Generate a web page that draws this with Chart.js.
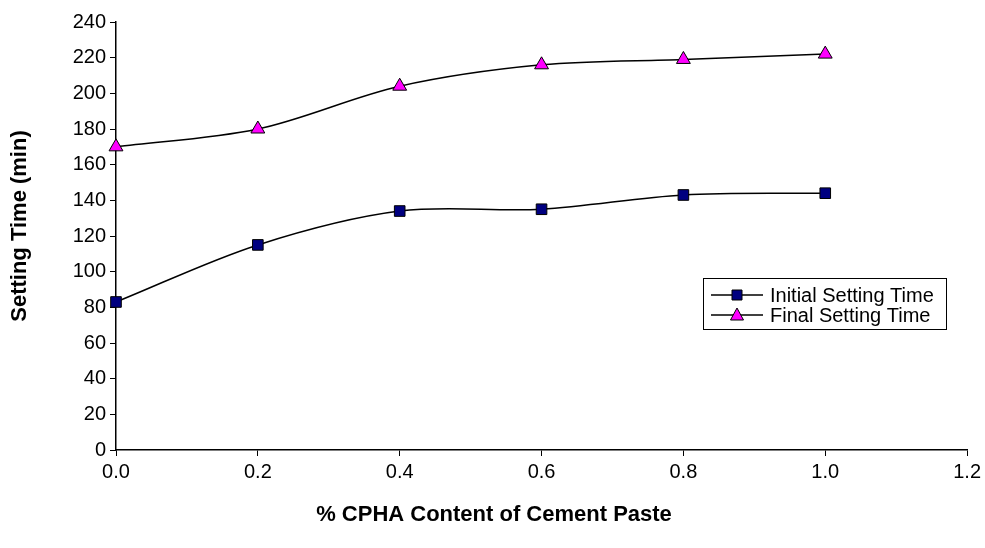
<!DOCTYPE html>
<html>
<head>
<meta charset="utf-8">
<script src="https://cdn.jsdelivr.net/npm/chart.js@4/dist/chart.umd.min.js"></script>
<style>
  html, body { margin: 0; padding: 0; background: #fff; }
  #wrap { width: 985px; height: 548px; }
</style>
</head>
<body>
<div id="wrap"><canvas id="setChart" width="985" height="548"></canvas></div>
<script>
// values
const cphaContent = [0.0, 0.2, 0.4, 0.6, 0.8, 1.0];
const initialSetting = [83, 115, 134, 135, 143, 144];
const finalSetting = [170, 180, 204, 216, 219, 222];
const seriesNames = ['Initial Setting Time', 'Final Setting Time'];
const xTitle = '% CPHA Content of Cement Paste';
const yTitle = 'Setting Time (min)';

const FONT = "'Liberation Sans', Arial, sans-serif";

function toPoints(xs, ys) {
  return xs.map((x, i) => ({ x: x, y: ys[i] }));
}

// axis titles: excel centres them on the whole chart, not the plot
const axisTitles = {
  id: 'axisTitles',
  afterDraw(chart) {
    const ctx = chart.ctx;
    ctx.save();
    ctx.fillStyle = '#000';
    ctx.font = 'bold 22px ' + FONT;
    ctx.textAlign = 'center';
    ctx.textBaseline = 'middle';
    ctx.fillText(xTitle, 494, 515);
    ctx.translate(20, 226);
    ctx.rotate(-Math.PI / 2);
    ctx.fillText(yTitle, 0, 0);
    ctx.restore();
  }
};

// legend box drawn inside the plot, like the excel original
const boxLegend = {
  id: 'boxLegend',
  afterDraw(chart) {
    const ctx = chart.ctx;
    const bx = 703, by = 278, bw = 243, bh = 51;
    ctx.save();
    ctx.fillStyle = '#fff';
    ctx.fillRect(bx, by, bw, bh);
    ctx.strokeStyle = '#000';
    ctx.lineWidth = 1;
    ctx.strokeRect(bx + 0.5, by + 0.5, bw, bh);
    chart.data.datasets.forEach((ds, i) => {
      const y = by + 17 + i * 20;
      ctx.strokeStyle = '#000';
      ctx.lineWidth = 1.5;
      ctx.beginPath();
      ctx.moveTo(711, y);
      ctx.lineTo(763, y);
      ctx.stroke();
      ctx.fillStyle = ds.pointBackgroundColor;
      ctx.lineWidth = 1;
      ctx.beginPath();
      if (ds.pointStyle === 'rect') {
        ctx.rect(732, y - 5, 10, 10);
      } else {
        ctx.moveTo(737, y - 7);
        ctx.lineTo(743.5, y + 5);
        ctx.lineTo(730.5, y + 5);
        ctx.closePath();
      }
      ctx.fill();
      ctx.stroke();
      ctx.fillStyle = '#000';
      ctx.font = '20px ' + FONT;
      ctx.textBaseline = 'middle';
      ctx.fillText(ds.label, 770, y + 1);
    });
    ctx.restore();
  }
};

new Chart(document.getElementById('setChart'), {
  type: 'line',
  data: {
    datasets: [{
      label: seriesNames[0],
      data: toPoints(cphaContent, initialSetting),
      borderColor: '#000',
      borderWidth: 1.5,
      pointStyle: 'rect',
      pointRadius: 7.5,
      pointBackgroundColor: '#000080',
      pointBorderColor: '#000',
      pointBorderWidth: 1,
      tension: 0.33,
      clip: false
    }, {
      label: seriesNames[1],
      data: toPoints(cphaContent, finalSetting),
      borderColor: '#000',
      borderWidth: 1.5,
      pointStyle: 'triangle',
      pointRadius: 8,
      pointBackgroundColor: '#FF00FF',
      pointBorderColor: '#000',
      pointBorderWidth: 1,
      tension: 0.33,
      clip: false
    }]
  },
  options: {
    responsive: false,
    animation: false,
    layout: { padding: { top: 22, right: 17, left: 0, bottom: 0 } },
    plugins: {
      legend: { display: false },
      tooltip: { enabled: false }
    },
    scales: {
      x: {
        type: 'linear',
        min: 0,
        max: 1.2,
        ticks: {
          stepSize: 0.2,
          color: '#000',
          font: { family: FONT, size: 20 },
          padding: 4,
          maxRotation: 0,
          callback: v => v.toFixed(1)
        },
        grid: { drawOnChartArea: false, color: '#000', tickLength: 6 },
        border: { color: '#000', width: 1.5 },
        afterFit: s => { s.height = 98; }
      },
      y: {
        min: 0,
        max: 240,
        ticks: {
          stepSize: 20,
          color: '#000',
          font: { family: FONT, size: 20 },
          padding: 4
        },
        grid: { drawOnChartArea: false, color: '#000', tickLength: 6 },
        border: { color: '#000', width: 1.5 },
        afterFit: s => { s.width = 116; }
      }
    }
  },
  plugins: [axisTitles, boxLegend]
});
</script>
</body>
</html>
